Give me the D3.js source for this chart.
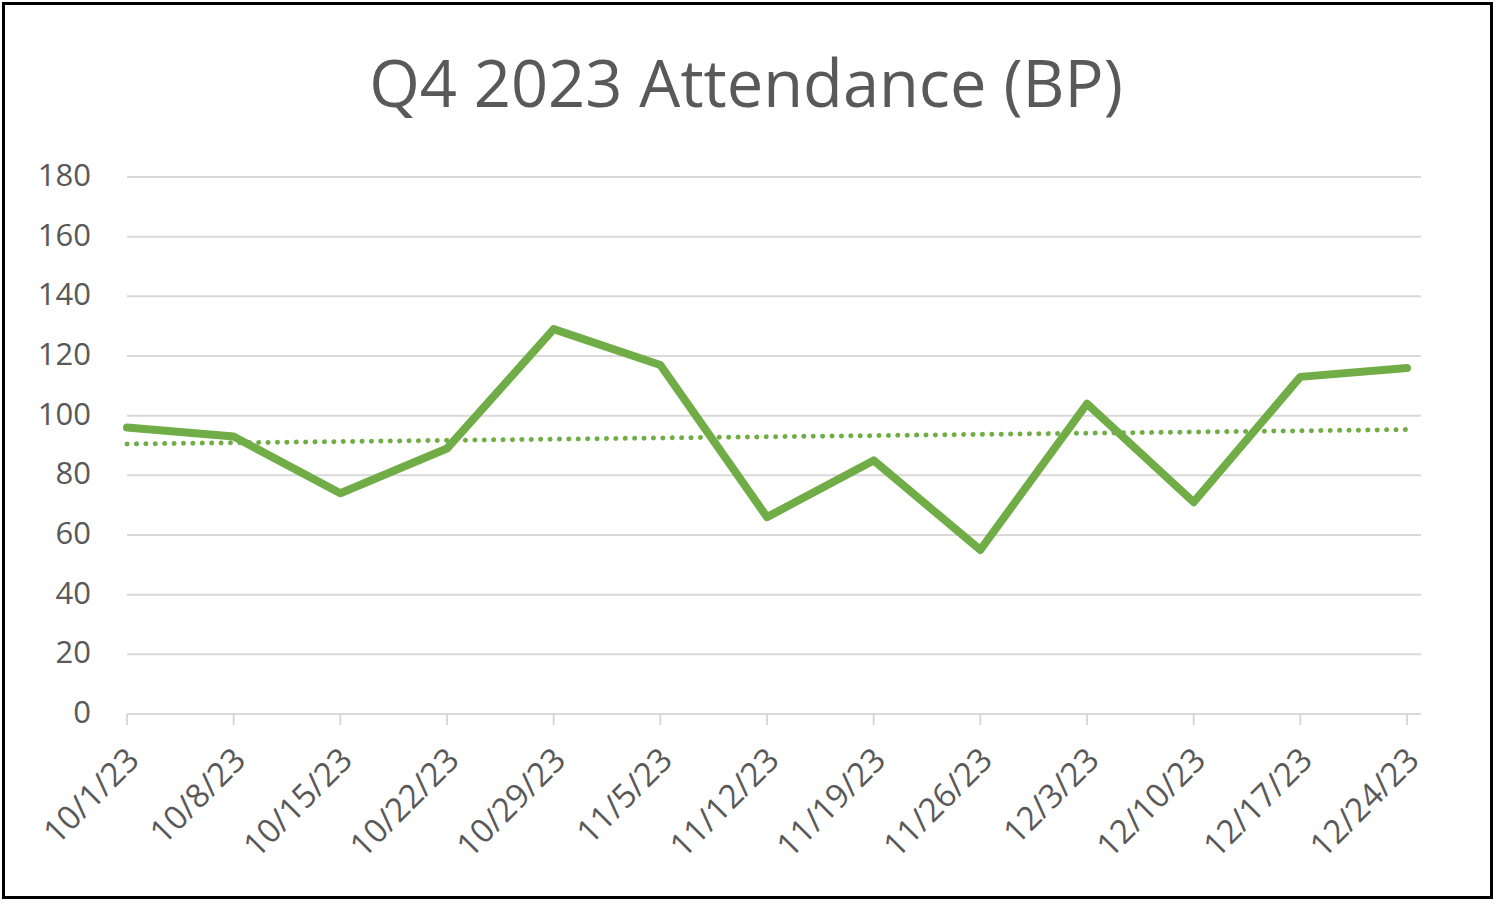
<!DOCTYPE html>
<html>
<head>
<meta charset="utf-8">
<script src="https://cdn.jsdelivr.net/npm/d3@7"></script>
<style>
  html, body { margin: 0; padding: 0; background: #fff; }
  svg { display: block; }
</style>
</head>
<body>
<svg id="chart" width="1500" height="905"></svg>
<script>
const title = "Q4 2023 Attendance (BP)";
const categories = ["10/1/23","10/8/23","10/15/23","10/22/23","10/29/23","11/5/23","11/12/23","11/19/23","11/26/23","12/3/23","12/10/23","12/17/23","12/24/23"];
const attendance = [96, 93, 74, 89, 129, 117, 66, 85, 55, 104, 71, 113, 116];
const yTicks = [0, 20, 40, 60, 80, 100, 120, 140, 160, 180];

const svg = d3.select("#chart");
const FONT = "'Open Sans', 'Noto Sans', sans-serif";
const TEXT = "#595959";
const GRID = "#D9D9D9";
const GREEN = "#70AD47";

// border
svg.append("rect")
  .attr("x", 3.5).attr("y", 3.5).attr("width", 1488).attr("height", 894)
  .attr("fill", "#fff").attr("stroke", "#000").attr("stroke-width", 3);

// title
svg.append("text")
  .attr("x", 746).attr("y", 107)
  .attr("text-anchor", "middle")
  .attr("font-family", FONT).attr("font-size", 65)
  .attr("fill", TEXT)
  .text(title);

const x = d3.scalePoint().domain(categories).range([127, 1407]);
const xEnd = 1421;
const y = d3.scaleLinear().domain([0, 180]).range([714, 177]);

// gridlines
svg.append("g").selectAll("line").data(yTicks.filter(d => d > 0)).join("line")
  .attr("x1", 127).attr("x2", xEnd)
  .attr("y1", d => y(d)).attr("y2", d => y(d))
  .attr("stroke", GRID).attr("stroke-width", 2);

// y labels
svg.append("g").selectAll("text").data(yTicks).join("text")
  .attr("x", 91).attr("y", d => y(d) - 2)
  .attr("dy", "0.35em")
  .attr("text-anchor", "end")
  .attr("font-family", FONT).attr("font-size", 31)
  .attr("fill", TEXT)
  .text(d => d);

// x axis line + ticks
svg.append("line")
  .attr("x1", 127).attr("x2", xEnd).attr("y1", y(0)).attr("y2", y(0))
  .attr("stroke", GRID).attr("stroke-width", 2);
svg.append("g").selectAll("line").data(categories).join("line")
  .attr("x1", d => x(d)).attr("x2", d => x(d))
  .attr("y1", y(0)).attr("y2", y(0) + 11)
  .attr("stroke", GRID).attr("stroke-width", 2);

// x labels
svg.append("g").selectAll("text").data(categories).join("text")
  .attr("transform", d => `translate(${x(d) + 14},${y(0) + 48}) rotate(-45)`)
  .attr("text-anchor", "end")
  .attr("font-family", FONT).attr("font-size", 33)
  .attr("fill", TEXT)
  .text(d => d);

// linear trendline (least squares)
const n = attendance.length;
const idx = d3.range(n);
const mx = d3.mean(idx), my = d3.mean(attendance);
const slope = d3.sum(idx, i => (i - mx) * (attendance[i] - my)) / d3.sum(idx, i => (i - mx) ** 2);
const intercept = my - slope * mx;
const trend = [0, n - 1].map(i => ({ i, v: intercept + slope * i }));

svg.append("path")
  .datum(trend)
  .attr("d", d3.line().x(d => x(categories[d.i])).y(d => y(d.v)))
  .attr("fill", "none").attr("stroke", GREEN)
  .attr("stroke-width", 5).attr("stroke-linecap", "round")
  .attr("stroke-dasharray", "0.1 9.3");

// data line
svg.append("path")
  .datum(attendance)
  .attr("d", d3.line().x((d, i) => x(categories[i])).y(d => y(d)))
  .attr("fill", "none").attr("stroke", GREEN)
  .attr("stroke-width", 8).attr("stroke-linejoin", "round").attr("stroke-linecap", "round");
</script>
</body>
</html>
